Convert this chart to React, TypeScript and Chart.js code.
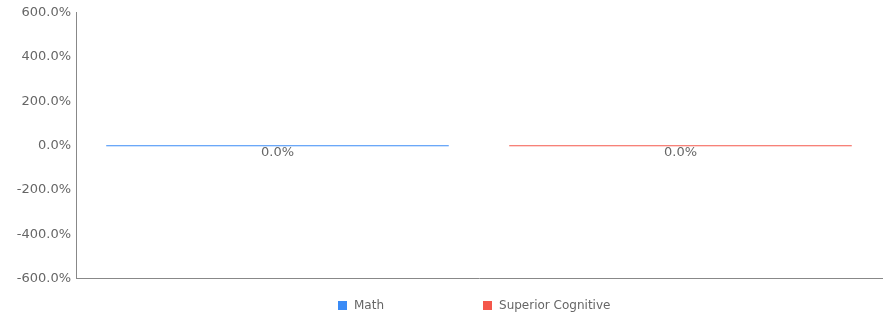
import React, { useEffect, useRef } from "react";
import { Chart, registerables } from "chart.js";

Chart.register(...registerables);

const categories = ["Math", "Superior Cognitive"];
const mathValues: (number | null)[] = [0, null];
const superiorValues: (number | null)[] = [null, 0];
const yTicksMin = -600;
const yTicksMax = 600;
const yTickStep = 200;

const BLUE = "#3a8bf6";
const RED = "#f4574b";
const TEXT = "#666666";
const FONT = "'DejaVu Sans', Verdana, sans-serif";

const valueLabelPlugin = {
  id: "valueLabels",
  afterDatasetsDraw(chart: any) {
    const ctx = chart.ctx;
    const yScale = chart.scales.y;
    ctx.save();
    ctx.font = `13px ${FONT}`;
    ctx.fillStyle = TEXT;
    ctx.textAlign = "center";
    ctx.textBaseline = "middle";
    chart.data.datasets.forEach((ds: any, di: number) => {
      const meta = chart.getDatasetMeta(di);
      meta.data.forEach((el: any, i: number) => {
        const v = ds.data[i];
        if (v === null || v === undefined) return;
        const y = yScale.getPixelForValue(v);
        ctx.fillText(`${Number(v).toFixed(1)}%`, el.x, y + 7);
      });
    });
    ctx.restore();
  },
};

export default function App() {
  const canvasRef = useRef<HTMLCanvasElement>(null);

  useEffect(() => {
    if (!canvasRef.current) return;
    const chart = new Chart(canvasRef.current, {
      type: "bar",
      data: {
        labels: categories,
        datasets: [
          {
            label: "Math",
            data: mathValues,
            backgroundColor: BLUE,
            borderWidth: 0,
            minBarLength: 1,
          },
          {
            label: "Superior Cognitive",
            data: superiorValues,
            backgroundColor: RED,
            borderWidth: 0,
            minBarLength: 1,
          },
        ],
      },
      options: {
        animation: false,
        responsive: false,
        maintainAspectRatio: false,
        skipNull: true,
        datasets: {
          bar: {
            categoryPercentage: 1,
            barPercentage: 0.85,
          },
        },
        layout: {
          padding: { top: 12.5, right: 8, bottom: 39.5, left: 0 },
        },
        plugins: {
          legend: { display: false },
          tooltip: { enabled: false },
        },
        scales: {
          x: {
            grid: { display: false, drawTicks: false },
            border: { display: true, color: "#888888", width: 1 },
            ticks: { display: false },
          },
          y: {
            min: yTicksMin,
            max: yTicksMax,
            grid: { display: false, drawTicks: false },
            border: { display: true, color: "#888888", width: 1 },
            ticks: {
              stepSize: yTickStep,
              padding: 5,
              color: TEXT,
              font: { family: FONT, size: 13 },
              callback: (v: any) => `${Number(v).toFixed(1)}%`,
            },
            afterFit: (s: any) => {
              s.width = 76;
            },
          },
        },
      } as any,
      plugins: [valueLabelPlugin],
    });
    return () => chart.destroy();
  }, []);

  const legendItems = [
    { label: "Math", color: BLUE },
    { label: "Superior Cognitive", color: RED },
  ];

  return (
    <div style={{ position: "absolute", left: 0, top: 0, width: 890, height: 318 }}>
      <canvas ref={canvasRef} width={890} height={318} style={{ display: "block" }} />
      <div
        style={{
          position: "absolute",
          left: 338,
          top: 297,
          display: "flex",
          alignItems: "center",
          gap: 99,
          fontFamily: FONT,
          fontSize: 12,
          color: TEXT,
          lineHeight: "16px",
        }}
      >
        {legendItems.map((it) => (
          <div key={it.label} style={{ display: "flex", alignItems: "center" }}>
            <span
              style={{
                display: "inline-block",
                width: 9,
                height: 9,
                background: it.color,
                marginRight: 7,
              }}
            />
            <span>{it.label}</span>
          </div>
        ))}
      </div>
    </div>
  );
}
